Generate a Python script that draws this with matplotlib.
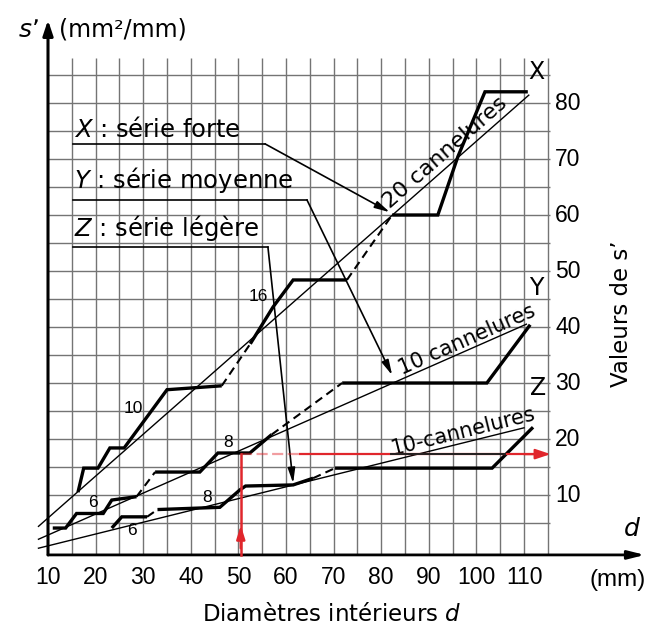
import numpy as np
import matplotlib
matplotlib.use("Agg")
import matplotlib.pyplot as plt

# ---- data: s' (mm²/mm) against inner diameter d (mm) ----
# Série forte (X)
serie_x_d = [16.3, 17.5, 20.5, 23.0, 26.0, 35.0, 46.5, 52.5, 57.3, 61.5, 72.8, 82.3, 91.9, 96.1, 101.8, 110.8]
serie_x_s = [10.5, 14.8, 14.8, 18.4, 18.4, 28.8, 29.5, 37.0, 43.6, 48.4, 48.4, 60.0, 60.0, 70.4, 82.0, 82.0]
serie_x_dashed = [6, 10]
# Série moyenne (Y)
serie_y_d = [11.0, 13.7, 16.0, 21.6, 23.4, 28.6, 32.5, 41.9, 45.7, 52.4, 57.0, 71.8, 102.2, 111.3]
serie_y_s = [4.1, 4.1, 6.7, 6.7, 9.1, 9.7, 14.1, 14.1, 17.5, 17.5, 20.8, 30.0, 30.0, 40.4]
serie_y_dashed = [5, 10]
# Série légère (Z)
serie_z_d = [23.4, 25.5, 30.8, 33.0, 46.1, 50.3, 51.5, 61.5, 65.7, 70.3, 103.3, 111.9]
serie_z_s = [4.1, 6.1, 6.1, 7.4, 7.8, 10.9, 11.6, 11.8, 13.0, 14.8, 14.8, 22.1]
serie_z_dashed = [2, 8]

# reference lines for a constant number of splines
ref_x_d, ref_x_s = [8.0, 111.0], [4.4, 81.4]   # 20 cannelures
ref_y_d, ref_y_s = [8.0, 110.5], [2.1, 40.5]   # 10 cannelures
ref_z_d, ref_z_s = [8.0, 110.0], [0.5, 22.0]   # 10 cannelures

# number of splines written along the steps: (d, s, text)
step_labels = [(54.1, 45.4, "16"), (27.9, 25.5, "10"), (47.8, 19.3, "8"),
               (43.4, 9.6, "8"), (19.5, 8.75, "6"), (27.6, 3.75, "6")]

# worked example (d = 50 mm)
example_d = 50.5
example_s = 17.3

x_ticks = [10, 20, 30, 40, 50, 60, 70, 80, 90, 100, 110]
y_ticks = [10, 20, 30, 40, 50, 60, 70, 80]

WORD = "DejaVu Sans"
NUM = "Liberation Sans"
RED = "#e0262c"

fig = plt.figure(figsize=(6.52, 6.30), dpi=100)
ax = fig.add_axes([0, 0, 1, 1])
ax.set_xlim(-0.084, 136.89)
ax.set_ylim(-14.107, 98.393)
ax.axis("off")

# millimetre grid
grid_d = np.arange(15, 116, 5)
grid_s = np.arange(5, 86, 5)
ax.vlines(grid_d, -0.7, 88, color="#747474", lw=1.0, zorder=1)
ax.hlines(grid_s, 10, 115.5, color="#747474", lw=1.0, zorder=1)

# axes with arrows
y0 = -0.7
ax.annotate("", xy=(10, 94.8), xytext=(10, y0),
            arrowprops=dict(arrowstyle="-|>,head_length=0.9,head_width=0.3",
                            lw=2.2, color="k", shrinkA=0, shrinkB=0), zorder=5)
ax.annotate("", xy=(135.4, y0), xytext=(10, y0),
            arrowprops=dict(arrowstyle="-|>,head_length=1.0,head_width=0.25",
                            lw=2.0, color="k", shrinkA=0, shrinkB=0), zorder=5)

for v in y_ticks:
    ax.text(119.2, v, str(v), ha="center", va="center", fontsize=16.5, family=NUM)
for v in x_ticks:
    ax.text(v, -4.8, str(v), ha="center", va="center", fontsize=16.5, family=NUM)

ax.text(129.6, -5.2, "(mm)", ha="center", va="center", fontsize=17.5, family=NUM)
ax.text(132.7, 3.9, "$\\it{d}$", ha="center", va="center", fontsize=18, family=WORD)
ax.text(69.5, -11.4, "Diamètres intérieurs $\\it{d}$", ha="center", va="center",
        fontsize=16.5, family=WORD)
ax.text(130.4, 42.3, "Valeurs de s’", ha="center", va="center", rotation=90,
        fontsize=16.5, family=WORD)
ax.text(5.8, 93.0, "$\\it{s}$’", ha="center", va="center", fontsize=18, family=WORD)
ax.text(12.4, 93.2, "(mm²/mm)", ha="left", va="center", fontsize=17, family=WORD)


def draw_series(d, s, dashed):
    n = len(d) - 1
    i = 0
    while i < n:
        style = "dashed" if i in dashed else "solid"
        j = i
        while j + 1 < n and ((j + 1 in dashed) == (i in dashed)):
            j += 1
        xs, ys = d[i:j + 2], s[i:j + 2]
        if style == "solid":
            ax.plot(xs, ys, color="k", lw=2.4, solid_joinstyle="miter",
                    solid_capstyle="butt", zorder=4)
        else:
            ax.plot(xs, ys, color="k", lw=1.5, ls=(0, (4, 2.5)), zorder=4)
        i = j + 1


for d, s, dashed in [(serie_x_d, serie_x_s, serie_x_dashed),
                     (serie_y_d, serie_y_s, serie_y_dashed),
                     (serie_z_d, serie_z_s, serie_z_dashed)]:
    draw_series(d, s, dashed)

for d, s in [(ref_x_d, ref_x_s), (ref_y_d, ref_y_s), (ref_z_d, ref_z_s)]:
    ax.plot(d, s, color="k", lw=1.0, zorder=3)


def screen_angle(d, s):
    p = ax.transData.transform(np.column_stack([d, s]))
    return np.degrees(np.arctan2(p[1, 1] - p[0, 1], p[1, 0] - p[0, 0]))


ax.text(93.4, 71.1, "20 cannelures", rotation=screen_angle(ref_x_d, ref_x_s),
        rotation_mode="anchor", ha="center", va="center", fontsize=16, family=WORD)
ax.text(98.0, 37.7, "10 cannelures", rotation=screen_angle(ref_y_d, ref_y_s),
        rotation_mode="anchor", ha="center", va="center", fontsize=15, family=WORD)
ax.text(97.2, 21.3, "10-cannelures", rotation=screen_angle(ref_z_d, ref_z_s),
        rotation_mode="anchor", ha="center", va="center", fontsize=15, family=WORD)

for d, s, t in step_labels:
    ax.text(d, s, t, ha="center", va="center", fontsize=12.5, family=NUM)

ax.text(112.7, 85.5, "X", ha="center", va="center", fontsize=17, family=WORD)
ax.text(112.5, 47.0, "Y", ha="center", va="center", fontsize=17, family=WORD)
ax.text(112.9, 29.1, "Z", ha="center", va="center", fontsize=17, family=WORD)

# legend captions with their leader arrows
captions = [("$\\it{X}$ : série forte", 75.2, 72.7, 55.6, (81.8, 60.5)),
            ("$\\it{Y}$ : série moyenne", 66.25, 62.7, 64.4, (82.3, 31.4)),
            ("$\\it{Z}$ : série légère", 57.7, 54.3, 56.2, (61.5, 12.1))]
for text, ty, uy, ux, tip in captions:
    ax.text(15.5, ty, text, ha="left", va="center", fontsize=17.5, family=WORD)
    ax.plot([15.3, ux], [uy, uy], color="k", lw=1.2, zorder=4)
    ax.annotate("", xy=tip, xytext=(ux, uy),
                arrowprops=dict(arrowstyle="-|>,head_length=0.9,head_width=0.22",
                                lw=1.2, color="k", shrinkA=0, shrinkB=0), zorder=6)

# worked example in red
ax.plot([example_d, example_d], [y0, example_s], color=RED, lw=1.8, zorder=6)
ax.annotate("", xy=(example_d, 4.6), xytext=(example_d, 0.5),
            arrowprops=dict(arrowstyle="-|>,head_length=0.8,head_width=0.25",
                            lw=1.8, color=RED, shrinkA=0, shrinkB=0), zorder=7)
ax.plot([example_d, 63.0], [example_s, example_s], color=RED, lw=1.6,
        alpha=0.45, ls=(0, (5, 2)), zorder=6)
ax.plot([63.0, 112.0], [example_s, example_s], color=RED, lw=1.6, zorder=6)
ax.plot([82.0, 106.0], [example_s, example_s], color="#222222", lw=1.4, zorder=6)
ax.annotate("", xy=(115.6, example_s), xytext=(110.0, example_s),
            arrowprops=dict(arrowstyle="-|>,head_length=0.9,head_width=0.3",
                            lw=1.6, color=RED, shrinkA=0, shrinkB=0), zorder=7)

fig.savefig("out.png", dpi=100, facecolor="white")
